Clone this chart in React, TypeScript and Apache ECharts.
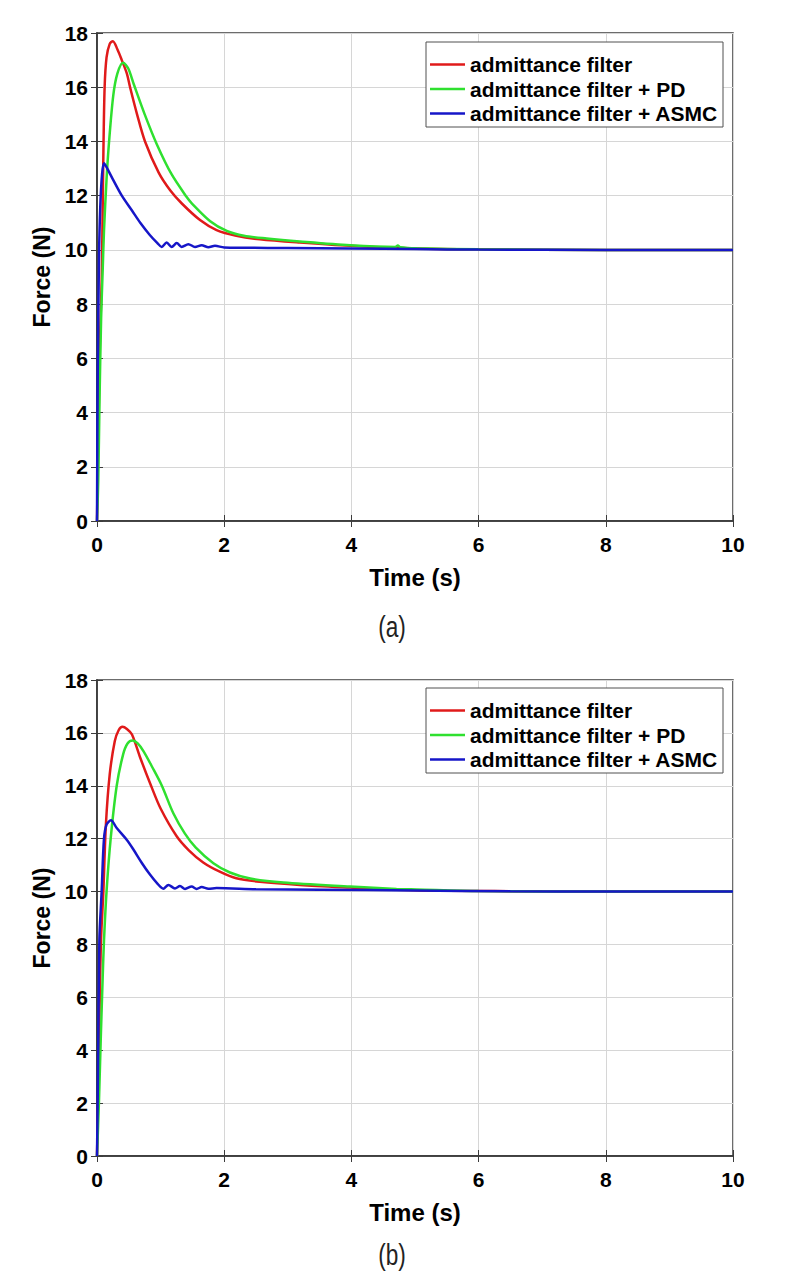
import React, { useEffect, useRef } from "react";
import * as echarts from "echarts";

// Series names shared by both panels
const SERIES_NAMES = [
  "admittance filter",
  "admittance filter + PD",
  "admittance filter + ASMC",
];
const SERIES_COLORS = ["#e01a1a", "#2fe02f", "#1616c8"];

// Axis ranges / tick spacing
const X_MIN = 0;
const X_MAX = 10;
const X_STEP = 2;
const Y_MIN = 0;
const Y_MAX = 18;
const Y_STEP = 2;

// ---- Panel (a) ----
const A_RED_T = [0, 0.02, 0.045, 0.074, 0.085, 0.1, 0.12, 0.15, 0.2, 0.25, 0.32, 0.39, 0.47, 0.52, 0.63, 0.755, 0.97, 1.15, 1.33, 1.62, 1.88, 2.19, 2.56, 3.19, 3.98, 5.03, 6, 8, 10];
const A_RED_F = [0, 3, 6.5, 8.9, 10.7, 13.5, 16, 17.1, 17.6, 17.7, 17.4, 17.0, 16.5, 16.0, 15.0, 14.0, 12.85, 12.2, 11.72, 11.1, 10.73, 10.52, 10.39, 10.27, 10.15, 10.05, 10.02, 10.0, 10.0];

const A_GREEN_T = [0, 0.02, 0.04, 0.065, 0.09, 0.11, 0.15, 0.19, 0.256, 0.32, 0.41, 0.49, 0.58, 0.75, 0.94, 1.17, 1.41, 1.49, 1.78, 2.04, 2.31, 2.67, 3.19, 3.98, 4.69, 4.73, 4.77, 5.03, 6, 8, 10];
const A_GREEN_F = [0, 1.5, 4.5, 7.5, 9.3, 10.7, 12.6, 14.0, 15.7, 16.5, 16.9, 16.7, 16.1, 15.0, 13.9, 12.8, 11.95, 11.72, 11.06, 10.7, 10.52, 10.42, 10.31, 10.17, 10.11, 10.16, 10.1, 10.06, 10.02, 10.0, 10.0];

const A_BLUE_T = [0, 0.01, 0.03, 0.05, 0.08, 0.11, 0.15, 0.25, 0.39, 0.55, 0.68, 0.83, 0.95, 1.017, 1.095, 1.174, 1.253, 1.331, 1.436, 1.541, 1.646, 1.751, 1.855, 2.0, 3, 4, 5, 6, 8, 10];
const A_BLUE_F = [0, 5, 9.5, 11.5, 12.8, 13.2, 13.05, 12.6, 12.0, 11.45, 11.0, 10.55, 10.25, 10.11, 10.27, 10.11, 10.25, 10.11, 10.21, 10.11, 10.17, 10.1, 10.15, 10.09, 10.07, 10.05, 10.03, 10.01, 10.0, 10.0];

// ---- Panel (b) ----
const B_RED_T = [0, 0.02, 0.04, 0.063, 0.1, 0.14, 0.2, 0.28, 0.34, 0.4, 0.47, 0.55, 0.68, 0.85, 1.0, 1.25, 1.44, 1.67, 1.93, 2.19, 2.56, 3.19, 3.98, 4.71, 5.5, 7, 10];
const B_RED_F = [0, 2.5, 5.5, 8.15, 10.0, 12.53, 14.43, 15.69, 16.1, 16.23, 16.15, 15.94, 15.06, 14.0, 13.14, 12.1, 11.57, 11.1, 10.75, 10.5, 10.37, 10.25, 10.15, 10.07, 10.03, 10.01, 10.0];

const B_GREEN_T = [0, 0.03, 0.06, 0.09, 0.11, 0.15, 0.215, 0.31, 0.41, 0.48, 0.56, 0.64, 0.73, 0.87, 1.02, 1.2, 1.38, 1.55, 1.83, 2.09, 2.41, 2.93, 3.98, 4.71, 5.03, 6, 8, 10];
const B_GREEN_F = [0, 2, 4.5, 6.8, 8.15, 10.0, 12.0, 14.0, 15.18, 15.6, 15.71, 15.6, 15.31, 14.7, 14.0, 12.96, 12.2, 11.67, 11.07, 10.72, 10.49, 10.34, 10.19, 10.1, 10.08, 10.02, 10.0, 10.0];

const B_BLUE_T = [0, 0.015, 0.037, 0.073, 0.11, 0.15, 0.22, 0.31, 0.47, 0.57, 0.7, 0.83, 0.95, 1.043, 1.122, 1.226, 1.305, 1.384, 1.488, 1.567, 1.646, 1.751, 1.88, 2.5, 3.5, 5, 6.5, 8, 10];
const B_BLUE_F = [0, 3, 8.15, 10.0, 12.0, 12.53, 12.7, 12.4, 11.95, 11.6, 11.1, 10.65, 10.3, 10.11, 10.25, 10.12, 10.21, 10.1, 10.19, 10.1, 10.17, 10.11, 10.13, 10.09, 10.07, 10.04, 10.01, 10.0, 10.0];

const PANELS = [
  { caption: "(a)", t: [A_RED_T, A_GREEN_T, A_BLUE_T], f: [A_RED_F, A_GREEN_F, A_BLUE_F] },
  { caption: "(b)", t: [B_RED_T, B_GREEN_T, B_BLUE_T], f: [B_RED_F, B_GREEN_F, B_BLUE_F] },
];

// Layout of the two stacked plots (page pixels)
const PLOT_LEFT = 97;
const PLOT_WIDTH = 636;
const PLOT_BOXES = [
  { top: 33, height: 488, legendTop: 42, captionY: 627 },
  { top: 680, height: 476, legendTop: 688, captionY: 1255 },
];

const FONT = "'Liberation Sans', Arial, Helvetica, sans-serif";
const AXIS_COLOR = "#3c3c3c";
const GRID_COLOR = "#d6d6d6";

function buildOption() {
  const grid: any[] = [];
  const xAxis: any[] = [];
  const yAxis: any[] = [];
  const series: any[] = [];
  const legend: any[] = [];
  const graphic: any[] = [];

  PLOT_BOXES.forEach((box, pi) => {
    grid.push({
      left: PLOT_LEFT,
      top: box.top,
      width: PLOT_WIDTH,
      height: box.height,
      show: true,
      backgroundColor: "#fff",
      borderColor: AXIS_COLOR,
      borderWidth: 1.5,
    });

    const tickStyle = { inside: true, length: 6, lineStyle: { color: AXIS_COLOR, width: 1 } };
    const lineStyle = { lineStyle: { color: AXIS_COLOR, width: 1.5 } };
    const labelStyle = {
      fontFamily: FONT,
      fontWeight: "bold",
      fontSize: 21,
      color: "#000",
    };

    // bottom x axis with labels and grid lines
    xAxis.push({
      type: "value",
      gridIndex: pi,
      position: "bottom",
      min: X_MIN,
      max: X_MAX,
      interval: X_STEP,
      axisLine: lineStyle,
      axisTick: tickStyle,
      splitLine: { show: true, lineStyle: { color: GRID_COLOR, width: 1 } },
      axisLabel: { ...labelStyle, margin: 13 },
      name: "Time (s)",
      nameLocation: "middle",
      nameGap: 44,
      nameTextStyle: { fontFamily: FONT, fontWeight: "bold", fontSize: 24, color: "#000" },
    });
    // top x axis: ticks only (box)
    xAxis.push({
      type: "value",
      gridIndex: pi,
      position: "top",
      min: X_MIN,
      max: X_MAX,
      interval: X_STEP,
      axisLine: lineStyle,
      axisTick: tickStyle,
      splitLine: { show: false },
      axisLabel: { show: false },
    });

    yAxis.push({
      type: "value",
      gridIndex: pi,
      position: "left",
      min: Y_MIN,
      max: Y_MAX,
      interval: Y_STEP,
      axisLine: lineStyle,
      axisTick: tickStyle,
      splitLine: { show: true, lineStyle: { color: GRID_COLOR, width: 1 } },
      axisLabel: { ...labelStyle, margin: 9 },
      name: "Force (N)",
      nameLocation: "middle",
      nameGap: 41,
      nameTextStyle: { fontFamily: FONT, fontWeight: "bold", fontSize: 23, color: "#000" },
    });
    yAxis.push({
      type: "value",
      gridIndex: pi,
      position: "right",
      min: Y_MIN,
      max: Y_MAX,
      interval: Y_STEP,
      axisLine: lineStyle,
      axisTick: tickStyle,
      splitLine: { show: false },
      axisLabel: { show: false },
    });

    const panel = PANELS[pi];
    SERIES_NAMES.forEach((name, si) => {
      const ts = panel.t[si];
      const fs = panel.f[si];
      series.push({
        name,
        type: "line",
        xAxisIndex: pi * 2,
        yAxisIndex: pi * 2,
        data: ts.map((t, i) => [t, fs[i]]),
        symbol: "none",
        showSymbol: false,
        smooth: 0.3,
        lineStyle: { color: SERIES_COLORS[si], width: 2.5 },
        itemStyle: { color: SERIES_COLORS[si] },
        z: 2 + si,
      });
    });

    // legend frame
    graphic.push({
      type: "rect",
      x: 426,
      y: box.legendTop,
      shape: { width: 297, height: 85 },
      style: { fill: "#fff", stroke: "#505050", lineWidth: 1 },
      z: 10,
    });
    legend.push({
      orient: "vertical",
      left: 430,
      top: box.legendTop + 12,
      padding: 0,
      itemGap: 3.5,
      itemWidth: 35,
      itemHeight: 2.5,
      icon: "rect",
      data: SERIES_NAMES,
      selectedMode: false,
      textStyle: {
        fontFamily: FONT,
        fontWeight: "bold",
        fontSize: 21,
        color: "#000",
        lineHeight: 20,
      },
      z: 20,
    });

    // panel caption
    graphic.push({
      type: "text",
      x: 392,
      y: box.captionY,
      scaleX: 0.78,
      style: {
        text: panel.caption,
        fill: "#222",
        fontFamily: FONT,
        fontSize: 29,
        align: "center",
        verticalAlign: "middle",
      },
    });
  });

  return {
    animation: false,
    backgroundColor: "#fff",
    grid,
    xAxis,
    yAxis,
    legend,
    graphic,
    series,
  };
}

export default function App() {
  const ref = useRef<HTMLDivElement>(null);

  useEffect(() => {
    if (!ref.current) return;
    const chart = echarts.init(ref.current, undefined, { renderer: "svg" });
    chart.setOption(buildOption());
    return () => chart.dispose();
  }, []);

  return (
    <div
      ref={ref}
      style={{ position: "absolute", left: 0, top: 0, width: 800, height: 1285, background: "#fff" }}
    />
  );
}
